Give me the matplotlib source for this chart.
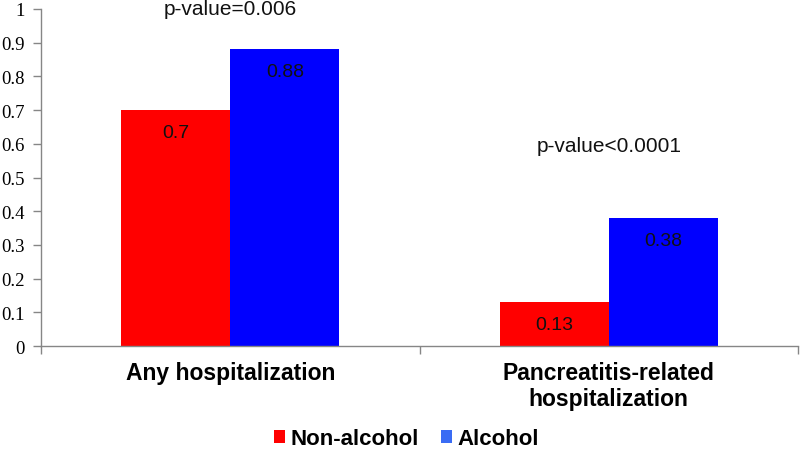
import matplotlib
matplotlib.use("Agg")
import matplotlib.pyplot as plt
from matplotlib.patches import Patch
import numpy as np

categories = ["Any hospitalization", "Pancreatitis-related\nhospitalization"]
series_names = ["Non-alcohol", "Alcohol"]
non_alcohol = [0.70, 0.13]
alcohol = [0.88, 0.38]
p_values = ["p-value=0.006", "p-value<0.0001"]
p_value_y = [0.985, 0.579]
y_ticks = [0, 0.1, 0.2, 0.3, 0.4, 0.5, 0.6, 0.7, 0.8, 0.9, 1]
y_tick_labels = ["0", "0.1", "0.2", "0.3", "0.4", "0.5", "0.6", "0.7", "0.8", "0.9", "1"]

bar_colors = ["#FF0000", "#0000FF"]
legend_colors = ["#FF0000", "#3A6CF4"]
grey = "#868686"

fig = plt.figure(figsize=(8, 4.52), dpi=100)
ax = fig.add_axes([41 / 800, 1 - 347 / 452, 757 / 800, 337 / 452])

x = np.arange(len(categories))
w = 0.288
b1 = ax.bar(x - w / 2, non_alcohol, w, color=bar_colors[0], linewidth=0)
b2 = ax.bar(x + w / 2, alcohol, w, color=bar_colors[1], linewidth=0)

sans = ["Liberation Sans", "DejaVu Sans"]
for bars, vals in ((b1, non_alcohol), (b2, alcohol)):
    for r, v in zip(bars, vals):
        ax.text(r.get_x() + r.get_width() / 2, v - 0.08, f"{v:g}",
                ha="center", va="baseline", fontsize=14, family=sans, color="#111111")

for xi, txt, yv in zip(x, p_values, p_value_y):
    ax.text(xi, yv, txt, ha="center", va="baseline", fontsize=15, family=sans,
            color="#111111", clip_on=False)

ax.set_xlim(-0.5, len(categories) - 0.5)
ax.set_ylim(0, 1)
ax.set_yticks(y_ticks)
ax.set_yticklabels(y_tick_labels, family=["Liberation Serif", "DejaVu Serif"], fontsize=13.5)
ax.tick_params(axis="y", direction="out", length=6, width=1, color=grey, pad=5.5)

ax.set_xticks(np.arange(-0.5, len(categories), 1.0))
ax.set_xticklabels([])
ax.tick_params(axis="x", which="major", direction="out", length=6, width=1, color=grey)
ax.set_xticks(x, minor=True)
ax.set_xticklabels(categories, minor=True, fontsize=16.5, fontweight="bold",
                   family=sans, linespacing=1.2)
ax.tick_params(axis="x", which="minor", length=0, pad=10.5)

for s in ("top", "right"):
    ax.spines[s].set_visible(False)
for s in ("left", "bottom"):
    ax.spines[s].set_color(grey)
    ax.spines[s].set_linewidth(1)

handles = [Patch(facecolor=c, edgecolor="none", label=n) for c, n in zip(legend_colors, series_names)]
fig.legend(handles=handles, loc="center", bbox_to_anchor=(0.508, 0.027), ncol=2,
           frameon=False, prop={"family": sans, "weight": "bold", "size": 16},
           handlelength=0.5, handleheight=0.5, handletextpad=0.25, columnspacing=1.0,
           borderpad=0, borderaxespad=0)

fig.savefig("out.png", dpi=100)
